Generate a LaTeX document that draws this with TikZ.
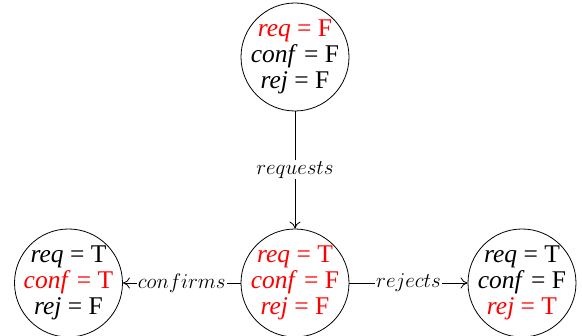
\RequirePackage{fix-cm}
\documentclass[tikz,border=0pt]{standalone}
\usepackage{fontspec}
\setmainfont{Liberation Serif}
\usetikzlibrary{arrows.meta}
\begin{document}
\begin{tikzpicture}[x=1pt,y=1pt,
  state/.style={circle,draw,line width=0.8pt,minimum size=108pt,inner sep=-15pt,align=center,font=\fontsize{25.5}{26}\selectfont},
  elabel/.style={fill=white,inner sep=1pt,font=\fontsize{21}{24}\selectfont},
  edge/.style={line width=0.8pt,-{To[length=7pt,width=11pt]}}]
\useasboundingbox (0,0) rectangle (582,-336);
\node[state] (s0) at (295,-57) {\textcolor{red}{\textit{req} = F}\\ \textit{conf} = F\\ \textit{rej} = F};
\node[state] (s1) at (295,-283) {\textcolor{red}{\textit{req} = T}\\ \textcolor{red}{\textit{conf} = F}\\ \textcolor{red}{\textit{rej} = F}};
\node[state] (s2) at (68.5,-283) {\textit{req} = T\\ \textcolor{red}{\textit{conf} = T}\\ \textit{rej} = F};
\node[state] (s3) at (522,-283) {\textit{req} = T\\ \textit{conf} = F\\ \textcolor{red}{\textit{rej} = T}};
\draw[edge] (s0) -- node[elabel]{$requests$} (s1);
\draw[edge] (s1) -- node[elabel]{$confirms$} (s2);
\draw[edge] (s1) -- node[elabel]{$rejects$} (s3);
\end{tikzpicture}
\end{document}
